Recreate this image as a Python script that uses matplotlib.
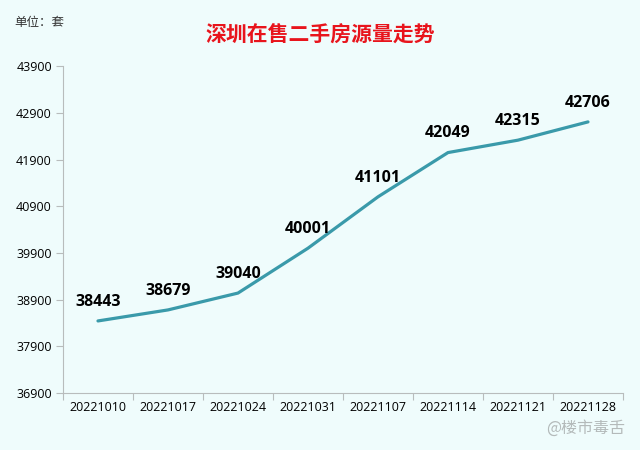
import matplotlib.pyplot as plt
import numpy as np

dates = ["20221010", "20221017", "20221024", "20221031",
         "20221107", "20221114", "20221121", "20221128"]
listings = [38443, 38679, 39040, 40001, 41101, 42049, 42315, 42706]
y_ticks = [36900, 37900, 38900, 39900, 40900, 41900, 42900, 43900]

plt.rcParams['font.family'] = ['Noto Sans CJK SC', 'DejaVu Sans']

bg = "#effcfc"
line_color = "#3a9aaa"
axis_color = "#b8bcbc"

fig = plt.figure(figsize=(6.4, 4.5), dpi=100, facecolor=bg)
ax = fig.add_axes([0.0984, 0.1267, 0.875, 0.7263], facecolor=bg)

x = np.arange(len(dates))
ax.plot(x, listings, color=line_color, linewidth=2.3, solid_capstyle="round")

for xi, v in zip(x, listings):
    ax.annotate(str(v), (xi, v), xytext=(0, 8), textcoords="offset points",
                ha="center", va="bottom", fontsize=11.5, fontweight="bold",
                family=["Open Sans", "DejaVu Sans"], color="black")

ax.set_xlim(-0.5, len(dates) - 0.5)
ax.set_ylim(y_ticks[0], y_ticks[-1])
ax.set_yticks(y_ticks)
ax.set_yticklabels([str(t) for t in y_ticks], family=["Open Sans", "DejaVu Sans"], fontsize=9)

# category ticks between the labels
ax.set_xticks(np.arange(-0.5, len(dates), 1.0))
ax.set_xticklabels([])
ax.set_xticks(x, minor=True)
ax.set_xticklabels(dates, minor=True, family=["Open Sans", "DejaVu Sans"], fontsize=9)
ax.tick_params(axis="x", which="minor", length=0, pad=6)
ax.tick_params(axis="x", which="major", length=5, color=axis_color)
ax.tick_params(axis="y", length=5, color=axis_color, pad=3)

ax.spines["right"].set_visible(False)
ax.spines["top"].set_visible(False)
ax.spines["left"].set_color(axis_color)
ax.spines["bottom"].set_color(axis_color)

fig.text(0.5, 0.925, "深圳在售二手房源量走势", ha="center", va="center",
         fontsize=15, color="#e8141c", fontweight="bold")
fig.text(0.023, 0.95, "单位：套", ha="left", va="center", fontsize=9, color="#333333")
fig.text(0.977, 0.048, "@楼市毒舌", ha="right", va="center", fontsize=11.5,
         color="#b4baba")

plt.savefig("out.png", dpi=100, facecolor=bg)
plt.close()
